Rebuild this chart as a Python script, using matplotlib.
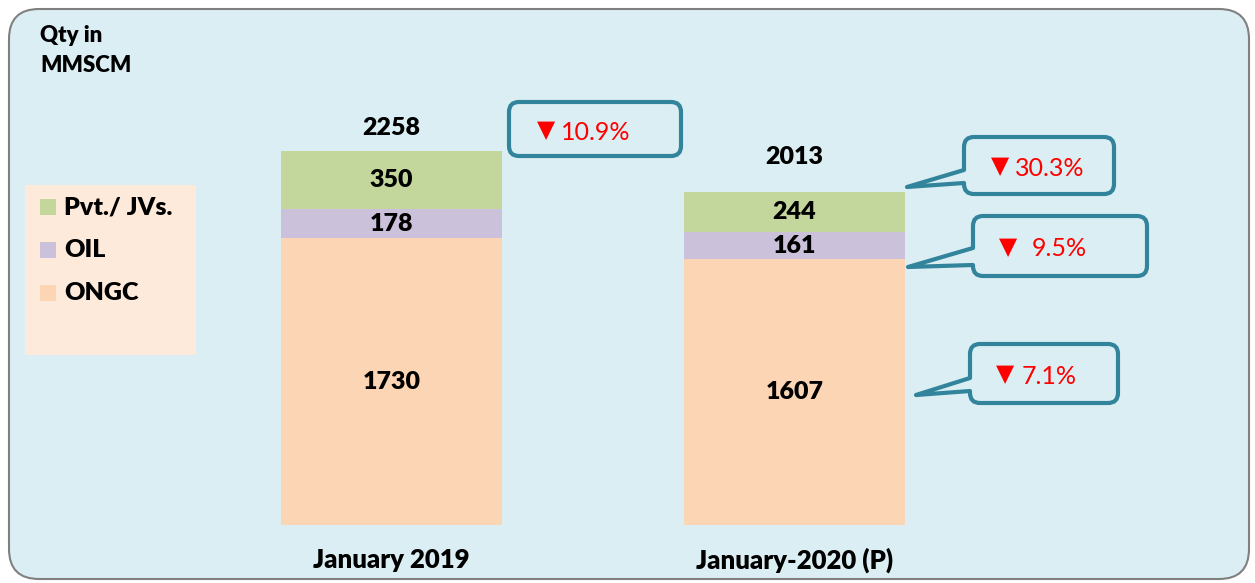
import matplotlib.pyplot as plt
from matplotlib.patches import FancyBboxPatch, Polygon, Rectangle
import numpy as np

# data
categories = ["January 2019", "January-2020 (P)"]
ongc = [1730, 1607]
oil = [178, 161]
pvt = [350, 244]
totals = [2258, 2013]
changes = ["10.9%", "30.3%", "9.5%", "7.1%"]

c_ongc = "#FCD5B5"
c_oil = "#CCC1DA"
c_pvt = "#C3D69B"
bg = "#DBEEF3"
teal = "#31849B"
fam = ["Lato", "DejaVu Sans"]

W, H = 1255, 583
fig = plt.figure(figsize=(W / 100, H / 100), dpi=100)
fig.patch.set_facecolor("white")

# background layer in pixel coords (y down)
back = fig.add_axes([0, 0, 1, 1], zorder=0)
back.set_xlim(0, W)
back.set_ylim(H, 0)
back.axis("off")
back.add_patch(FancyBboxPatch((9, 9), 1240, 570, boxstyle="round,pad=0,rounding_size=30",
                              fc=bg, ec="#808080", lw=1.5))
back.add_patch(Rectangle((25, 185), 171, 170, fc="#FDEADA", ec="none"))

# bars
ax = fig.add_axes([0, 0, 1, 1], zorder=1)
ax.patch.set_alpha(0)
ax.axis("off")
x = np.arange(len(categories))
ax.set_xlim(-0.9715, 2.1427)
ax.set_ylim(-350.2, 3170)
w = 0.548
ax.bar(x, ongc, w, color=c_ongc)
ax.bar(x, oil, w, bottom=ongc, color=c_oil)
ax.bar(x, pvt, w, bottom=np.add(ongc, oil), color=c_pvt)
tot_off = [140, 210]
for i in x:
    tk = dict(ha="center", va="center", fontsize=18, fontweight="heavy", family=fam)
    ax.text(i, ongc[i] / 2, str(ongc[i]), **tk)
    ax.text(i, ongc[i] + oil[i] / 2, str(oil[i]), **tk)
    ax.text(i, ongc[i] + oil[i] + pvt[i] / 2, str(pvt[i]), **tk)
    ax.text(i, totals[i] + tot_off[i], str(totals[i]), **tk)
    ax.text(i, -210, categories[i], **dict(tk, fontsize=18.5))

# overlay: titles, legend, callouts
ov = fig.add_axes([0, 0, 1, 1], zorder=2)
ov.patch.set_alpha(0)
ov.set_xlim(0, W)
ov.set_ylim(H, 0)
ov.axis("off")
ov.text(40, 35, "Qty in", fontsize=16, fontweight="heavy", family=fam, va="center")
ov.text(40, 66, "MMSCM", fontsize=16, fontweight="heavy", family=fam, va="center")

for lab, col, yy in [("Pvt./ JVs.", c_pvt, 207), ("OIL", c_oil, 250), ("ONGC", c_ongc, 293)]:
    ov.add_patch(Rectangle((40, yy - 8), 16, 16, fc=col, ec="none"))
    ov.text(64, yy, lab, fontsize=18, fontweight="heavy", family=fam, va="center")

# (left, top, right, bottom, tail, triangle x, text x)
boxes = [
    (509, 102, 681, 156, None, 537, 561),
    (964, 137, 1114, 194, (170, (907, 187), 183), 991, 1015),
    (973, 216, 1147, 276, (248, (908, 267), 265), 999, 1032),
    (970, 344, 1118, 403, (378, (916, 395), 391), 996, 1022),
]
for (l, t, r, b, tail, tx, nx), txt in zip(boxes, changes):
    ov.add_patch(FancyBboxPatch((l, t), r - l, b - t, boxstyle="round,pad=0,rounding_size=10",
                                fc=bg, ec=teal, lw=3, zorder=3))
    if tail:
        y1, tip, y2 = tail
        ov.add_patch(Polygon([(l + 3, y1), tip, (l + 3, y2)], closed=True, fc=bg, ec="none", zorder=4))
        ov.plot([l, tip[0], l], [y1, tip[1], y2], color=teal, lw=3,
                solid_joinstyle="round", solid_capstyle="round", zorder=5)
    yc = (t + b) / 2 + 3
    ov.text(tx, yc - 2, "\u25BC", color="#FF0000", fontsize=17, family="DejaVu Sans",
            ha="left", va="center", zorder=6)
    ov.text(nx, yc, txt, color="#FF0000", fontsize=18, family=fam,
            ha="left", va="center", zorder=6)

fig.savefig("out.png", dpi=100)
